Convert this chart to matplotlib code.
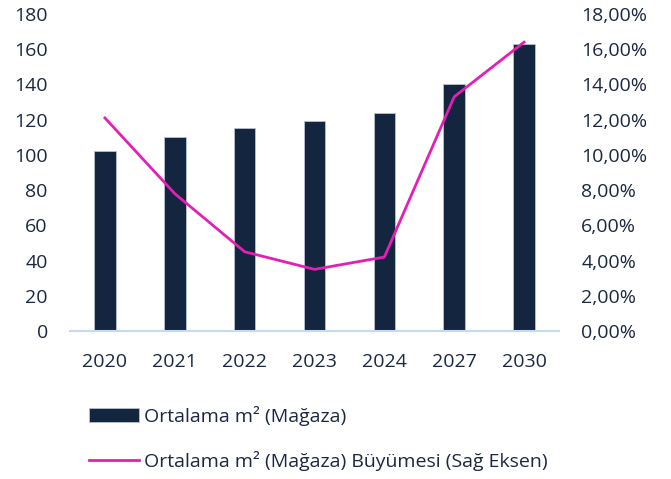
import matplotlib
matplotlib.use("Agg")
import matplotlib.pyplot as plt
from matplotlib.ticker import FuncFormatter, MultipleLocator

years = ["2020", "2021", "2022", "2023", "2024", "2027", "2030"]
avg_m2 = [102, 110, 115, 119, 124, 140, 163]
growth_pct = [12.1, 7.8, 4.5, 3.5, 4.2, 13.3, 16.4]

bar_label = "Ortalama m² (Mağaza)"
line_label = "Ortalama m² (Mağaza) Büyümesi (Sağ Eksen)"

bar_color = "#13253f"
line_color = "#e61fb4"
text_color = "#1c2841"
axis_color = "#c7d8f2"

plt.rcParams["font.family"] = ["Open Sans", "DejaVu Sans"]
plt.rcParams["font.size"] = 14

fig = plt.figure(figsize=(6.71, 4.79), dpi=100)
ax = fig.add_axes([70/671, 1 - 331/479, 489/671, 317/479])
x = list(range(len(years)))
bars = ax.bar(x, avg_m2, width=0.31, color=bar_color, edgecolor="#b9c2cf", linewidth=0.6, label=bar_label, zorder=2)
ax.set_xlim(-0.5, 6.5)
ax.set_ylim(0, 180)
ax.yaxis.set_major_locator(MultipleLocator(20))
ax.set_xticks(x)
ax.set_xticklabels(years)
for s in ["top", "right", "left"]:
    ax.spines[s].set_visible(False)
ax.spines["bottom"].set_color(axis_color)
ax.spines["bottom"].set_linewidth(1.5)
ax.tick_params(axis="both", length=0, colors=text_color, labelsize=14)
ax.tick_params(axis="x", pad=16)
ax.tick_params(axis="y", pad=16)

ax2 = ax.twinx()
line, = ax2.plot(x, growth_pct, color=line_color, linewidth=2, label=line_label, zorder=3)
ax2.set_ylim(0, 18)
ax2.yaxis.set_major_locator(MultipleLocator(2))
ax2.yaxis.set_major_formatter(FuncFormatter(lambda v, p: f"{v:.2f}".replace(".", ",") + "%"))
for s in ["top", "right", "left", "bottom"]:
    ax2.spines[s].set_visible(False)
ax2.tick_params(axis="y", length=0, colors=text_color, labelsize=14, pad=16)

leg = fig.legend([bars, line], [bar_label, line_label], loc="upper left",
                 bbox_to_anchor=(71/671, 1 - 388/479), frameon=False,
                 handlelength=2.6, handletextpad=0.25, labelspacing=1.3,
                 fontsize=14)
for t in leg.get_texts():
    t.set_color(text_color)

fig.savefig("out.png", dpi=100)
